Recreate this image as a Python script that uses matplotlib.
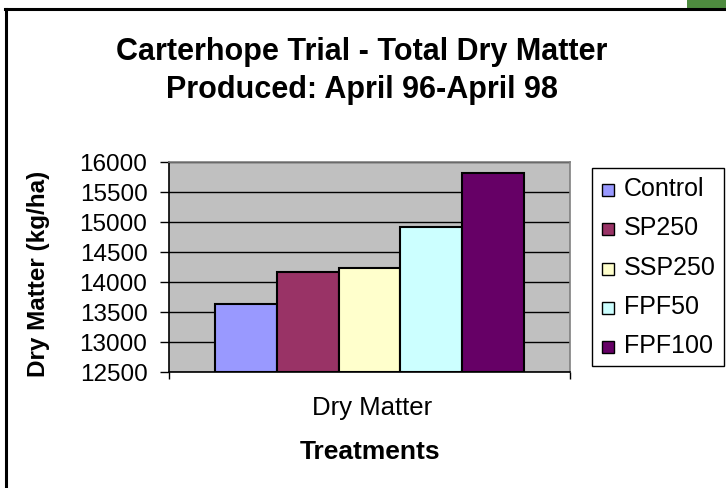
import matplotlib
matplotlib.use("Agg")
import matplotlib.pyplot as plt
from matplotlib.patches import Rectangle
from matplotlib.lines import Line2D

plt.rcParams['font.family'] = ['Liberation Sans', 'DejaVu Sans']

treatments = ["Control", "SP250", "SSP250", "FPF50", "FPF100"]
dry_matter = [13630, 14160, 14230, 14920, 15810]
colors = ["#9999FF", "#993366", "#FFFFCC", "#CCFFFF", "#660066"]
category = "Dry Matter"
yticks = [12500, 13000, 13500, 14000, 14500, 15000, 15500, 16000]

W, H = 726, 489
fig = plt.figure(figsize=(W / 100, H / 100), dpi=100)

def fx(px):
    return px / W

def fy(py):
    return 1 - py / H

# chart border (cropped on right and bottom)
fig.add_artist(Line2D([fx(6), fx(6)], [fy(10), fy(489)], color="black", lw=2.2, transform=fig.transFigure))
fig.add_artist(Line2D([fx(5), fx(726)], [fy(10), fy(10)], color="black", lw=2.2, transform=fig.transFigure))
fig.add_artist(Rectangle((fx(687), fy(9)), fx(39), 9 / H, transform=fig.transFigure,
                         facecolor="#4E8B3F", edgecolor="none"))

left, right, top, bottom = 169, 570, 163, 373
ax = fig.add_axes([fx(left), fy(bottom), fx(right - left), (bottom - top) / H])
ax.set_facecolor("#C0C0C0")

n = len(treatments)
bw = 0.773 / n
for i, (t, v, c) in enumerate(zip(treatments, dry_matter, colors)):
    x = -0.773 / 2 + bw * (i + 0.5)
    ax.bar(x, v - yticks[0], bottom=yticks[0], width=bw, color=c, edgecolor="black",
           linewidth=1.5, label=t, zorder=3)

ax.set_xlim(-0.5, 0.5)
ax.set_ylim(yticks[0], yticks[-1])
ax.set_yticks(yticks)
ax.set_yticklabels([str(v) for v in yticks], fontsize=17.5)
ax.yaxis.grid(True, color="black", linewidth=1, zorder=1)
ax.set_axisbelow(True)
ax.set_xticks([-0.5, 0.5])
ax.set_xticklabels(["", ""])
ax.tick_params(axis="y", direction="out", length=6.5, width=1, pad=9)
ax.tick_params(axis="x", direction="out", length=5, width=1)
for s in ["top", "right"]:
    ax.spines[s].set_color("#808080")
    ax.spines[s].set_linewidth(1.2)
for s in ["left", "bottom"]:
    ax.spines[s].set_color("black")
    ax.spines[s].set_linewidth(1.2)

fig.text(fx(372), fy(408), category, ha="center", va="center", fontsize=18.5)
fig.text(fx(370), fy(452), "Treatments", ha="center", va="center", fontsize=19, fontweight="bold")
fig.text(fx(39), fy(274), "Dry Matter (kg/ha)", ha="center", va="center", rotation=90,
         fontsize=17.5, fontweight="bold")
fig.text(fx(362), fy(60), "Carterhope Trial - Total Dry Matter", ha="center", va="baseline",
         fontsize=22, fontweight="bold")
fig.text(fx(362), fy(98), "Produced: April 96-April 98", ha="center", va="baseline",
         fontsize=22, fontweight="bold")

# legend
lx0, ly0, lx1, ly1 = 592, 169, 724, 367
fig.add_artist(Rectangle((fx(lx0), fy(ly1)), fx(lx1 - lx0), (ly1 - ly0) / H, transform=fig.transFigure,
                         facecolor="white", edgecolor="black", linewidth=1))
for i, (t, c) in enumerate(zip(treatments, colors)):
    yc = 189 + 39.3 * i
    fig.add_artist(Rectangle((fx(602), fy(yc + 8)), fx(12), 12 / H, transform=fig.transFigure,
                             facecolor=c, edgecolor="black", linewidth=1))
    fig.text(fx(624), fy(yc), t, ha="left", va="center", fontsize=18)

fig.savefig("out.png", dpi=100)
